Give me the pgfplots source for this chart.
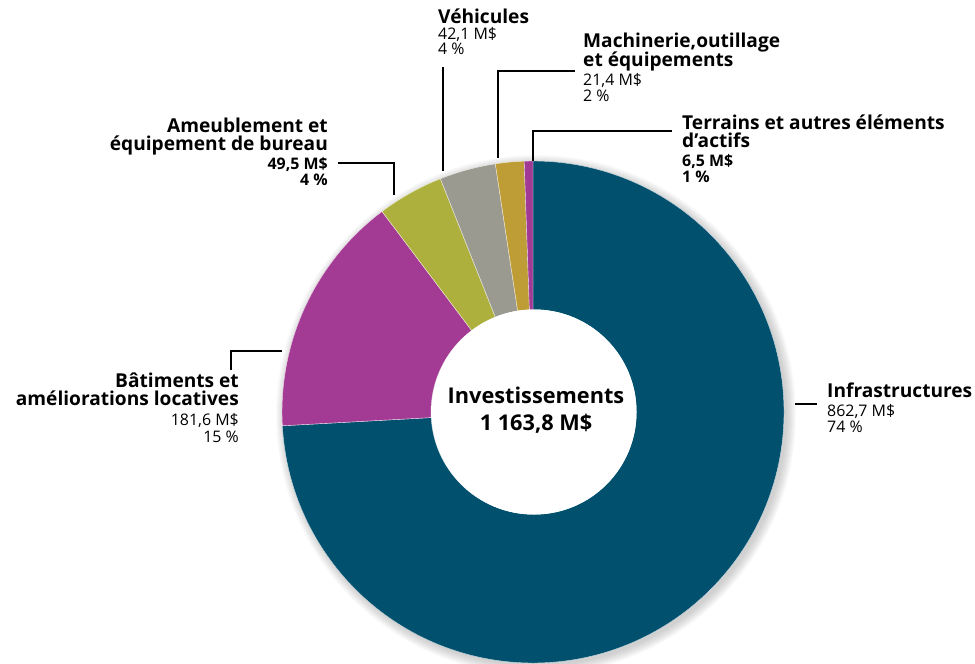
\documentclass[border=0pt]{standalone}
\usepackage{pgfplots}
\usepackage{pgfplotstable}
\pgfplotsset{compat=1.18}
\usepackage{fontspec}
\setmainfont{Open Sans}

\definecolor{c0}{HTML}{00506E}
\definecolor{c1}{HTML}{A33A93}
\definecolor{c2}{HTML}{ADB03C}
\definecolor{c3}{HTML}{9A9A90}
\definecolor{c4}{HTML}{BE9C36}
\definecolor{c5}{HTML}{A03A95}

% soft edge inside the hole
\pgfdeclareradialshading{hole}{\pgfpoint{0bp}{0bp}}{%
  color(0bp)=(white); color(41bp)=(white); color(47bp)=(black!14); color(50bp)=(black!38)}

\pgfplotstableread{
name value
Infrastructures 862.7
Batiments 181.6
Ameublement 49.5
Vehicules 42.1
Machinerie 21.4
Terrains 6.5
}\slices

\newcommand\bl{\fontsize{19.2}{20}\selectfont\bfseries}
\newcommand\vl{\fontsize{16}{17}\selectfont}
\newcommand\vb{\fontsize{16}{17}\selectfont\bfseries}
\tikzset{lbl/.style={inner sep=0, text height=13bp, text depth=2.5bp}}

\begin{document}
\begin{tikzpicture}
% cumulative angles, clockwise from the top
\def\total{0}
\pgfplotsforeachungrouped \i in {0,...,5}{%
  \pgfplotstablegetelem{\i}{value}\of\slices
  \pgfmathsetmacro\total{\total+\pgfplotsretval}}
\def\cum{90}
\pgfplotsforeachungrouped \i in {0,...,5}{%
  \pgfplotstablegetelem{\i}{value}\of\slices
  \pgfmathsetmacro\nxt{\cum-\pgfplotsretval/\total*360}%
  \expandafter\xdef\csname aS\i\endcsname{\cum}%
  \expandafter\xdef\csname aE\i\endcsname{\nxt}%
  \global\let\cum\nxt}
\begin{axis}[
    hide axis,
    scale only axis,
    width=975bp, height=664bp,
    xmin=0, xmax=975, ymin=0, ymax=664,
    y dir=reverse,
    clip=false,
]
\coordinate (TL) at (axis cs:0,0);
\coordinate (BR) at (axis cs:975,664);
% drop shadow
\pgfplotsinvokeforeach{1,...,10}{
  \fill[black, opacity=0.018] ([shift={(3bp,-3bp)}]axis cs:533,412) circle[radius=250bp+#1bp];
}
% slices
\pgfplotsinvokeforeach{0,...,5}{
  \fill[c#1, draw=white!80!c#1, line width=0.4bp]
    ([shift={(\csname aS#1\endcsname:251bp)}]axis cs:533,412)
    arc[start angle=\csname aS#1\endcsname, end angle=\csname aE#1\endcsname, radius=251bp]
    -- ([shift={(\csname aE#1\endcsname:102bp)}]axis cs:533,412)
    arc[start angle=\csname aE#1\endcsname, end angle=\csname aS#1\endcsname, radius=102bp]
    -- cycle;
}
\fill[white] (axis cs:534,412) circle[radius=102.5bp];
\shade[shading=hole] (axis cs:534,412) circle[radius=102.5bp];

% centre
\node[anchor=base, inner sep=0] at (axis cs:536,403) {\fontsize{21.8}{23}\selectfont\bfseries Investissements};
\node[anchor=base, inner sep=0] at (axis cs:536,430) {\fontsize{21.8}{23}\selectfont\bfseries 1 163,8 M\$};

% leader lines
\draw[black, line width=1.3bp] (axis cs:443,67) -- (axis cs:443,171);
\draw[black, line width=1.3bp] (axis cs:575,71) -- (axis cs:498,71) -- (axis cs:498,158);
\draw[black, line width=1.3bp] (axis cs:672,131) -- (axis cs:533,131) -- (axis cs:533,161);
\draw[black, line width=1.3bp] (axis cs:338,163) -- (axis cs:394,163) -- (axis cs:394,195);
\draw[black, line width=1.3bp] (axis cs:282,351) -- (axis cs:231,351) -- (axis cs:231,370);
\draw[black, line width=1.3bp] (axis cs:795,404) -- (axis cs:817,404);

% Véhicules
\node[lbl, anchor=base west] at (axis cs:438,24) {\bl Véhicules};
\node[lbl, anchor=base west] at (axis cs:438,40) {\vl 42,1 M\$};
\node[lbl, anchor=base west] at (axis cs:438,55) {\vl 4 \%};
% Machinerie
\node[lbl, anchor=base west] at (axis cs:583,48) {\bl Machinerie,outillage};
\node[lbl, anchor=base west] at (axis cs:583,67) {\bl et équipements};
\node[lbl, anchor=base west] at (axis cs:583,86) {\vl 21,4 M\$};
\node[lbl, anchor=base west] at (axis cs:583,101) {\vl 2 \%};
% Terrains
\node[lbl, anchor=base west] at (axis cs:682,129) {\bl Terrains et autres éléments};
\node[lbl, anchor=base west] at (axis cs:682,147) {\bl d’actifs};
\node[lbl, anchor=base west] at (axis cs:682,166) {\vb 6,5 M\$};
\node[lbl, anchor=base west] at (axis cs:682,182) {\vb 1 \%};
% Ameublement
\node[lbl, anchor=base east] at (axis cs:328,132) {\bl Ameublement et};
\node[lbl, anchor=base east] at (axis cs:328,150) {\bl équipement de bureau};
\node[lbl, anchor=base east] at (axis cs:328,169) {\vb 49,5 M\$};
\node[lbl, anchor=base east] at (axis cs:328,185) {\vb 4 \%};
% Bâtiments
\node[lbl, anchor=base east] at (axis cs:239,387) {\bl Bâtiments et};
\node[lbl, anchor=base east] at (axis cs:239,405.5) {\bl améliorations locatives};
\node[lbl, anchor=base east] at (axis cs:239,425.5) {\vl 181,6 M\$};
\node[lbl, anchor=base east] at (axis cs:239,442) {\vl 15 \%};
% Infrastructures
\node[lbl, anchor=base west] at (axis cs:827,397) {\bl Infrastructures};
\node[lbl, anchor=base west] at (axis cs:827,416) {\vl 862,7 M\$};
\node[lbl, anchor=base west] at (axis cs:827,432) {\vl 74 \%};
\end{axis}
\pgfresetboundingbox
\path[use as bounding box] (TL) rectangle (BR);
\end{tikzpicture}
\end{document}
